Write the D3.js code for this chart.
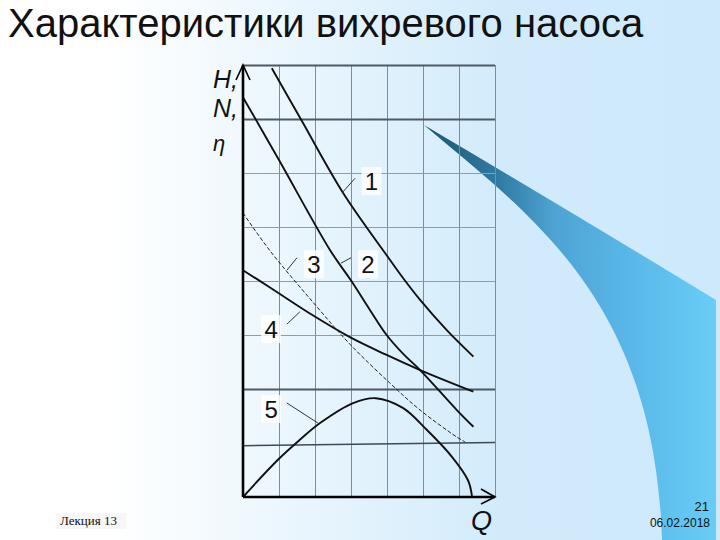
<!DOCTYPE html>
<html>
<head>
<meta charset="utf-8">
<script src="https://cdn.jsdelivr.net/npm/d3@7"></script>
<style>
  html, body { margin: 0; padding: 0; background: #fff; }
  svg { display: block; }
</style>
</head>
<body>
<div id="slide"></div>
<script>
// curves, in grid cells (Q: 0..7, H/N/eta: 0..8)
var curve1 = [[0.80, 7.94], [1.62, 6.98], [2.79, 5.62], [4.03, 4.44], [4.44, 4.06], [4.92, 3.65],
              [5.66, 3.09], [6.40, 2.60]];
var curve2 = [[0.01, 7.39], [1.00, 6.24], [2.42, 4.57], [3.02, 3.99], [3.53, 3.46], [3.99, 3.00],
              [4.45, 2.65], [4.92, 2.35], [5.94, 1.61], [6.40, 1.30]];
var curve3 = [[0.00, 5.26], [0.75, 4.56], [1.94, 3.61], [2.97, 2.83], [4.08, 2.11], [4.92, 1.61],
              [5.94, 1.11], [6.17, 1.02]];
var curve4 = [[0.00, 4.20], [0.75, 3.88], [1.95, 3.36], [2.97, 2.96], [3.99, 2.63], [4.92, 2.35], [6.40, 1.95]];
var curve5 = [[0.00, 0.00], [0.97, 0.69], [1.58, 1.06], [2.14, 1.37], [3.06, 1.74], [3.69, 1.83],
              [4.44, 1.65], [5.11, 1.24], [5.81, 0.74], [6.25, 0.31], [6.36, 0.02]];
var baseLine = [[0, 0.95], [7, 1.01]];

var curveNames = ['1', '2', '3', '4', '5'];
var qTicks = [1, 2, 3, 4, 5, 6, 7];
var hTicks = [2, 3, 4, 5, 6, 7, 8];
var boldTicks = [2, 7, 8];

var title = 'Характеристики вихревого насоса';
var axisNames = ['H,', 'N,', 'η'];

function drawSlide() {
    const W = 720, H = 540;

    let svg = d3.select('#slide').append('svg')
        .attr('width', W)
        .attr('height', H);

    let defs = svg.append('defs');

    // slide background: white on the left fading to light blue
    let bg = defs.append('linearGradient')
        .attr('id', 'bg')
        .attr('gradientUnits', 'userSpaceOnUse')
        .attr('x1', 0).attr('y1', 0).attr('x2', W).attr('y2', 0);
    bg.append('stop').attr('offset', 0.15).attr('stop-color', '#ffffff');
    bg.append('stop').attr('offset', 0.70).attr('stop-color', '#d2ebfb');
    bg.append('stop').attr('offset', 1).attr('stop-color', '#cde9fb');

    let sw = defs.append('linearGradient')
        .attr('id', 'swoosh')
        .attr('gradientUnits', 'userSpaceOnUse')
        .attr('x1', 424).attr('y1', 0).attr('x2', 716).attr('y2', 0);
    sw.append('stop').attr('offset', 0).attr('stop-color', '#1d566f');
    sw.append('stop').attr('offset', 0.25).attr('stop-color', '#2f7aa2');
    sw.append('stop').attr('offset', 0.45).attr('stop-color', '#4ea4d4');
    sw.append('stop').attr('offset', 0.75).attr('stop-color', '#5bbbeb');
    sw.append('stop').attr('offset', 1).attr('stop-color', '#69cdf7');

    svg.append('rect')
        .attr('width', W)
        .attr('height', H)
        .style('fill', 'url(#bg)');

    // decorative swoosh on the right
    svg.append('path')
        .attr('d', 'M424,125 Q560,205 716,300 L716,540 L662,540 C655,300 530,215 424,125 Z')
        .style('fill', 'url(#swoosh)');

    // title
    svg.append('text')
        .attr('x', 8)
        .attr('y', 37)
        .style('font-family', '"Liberation Sans", Arial, sans-serif')
        .style('font-size', '40px')
        .style('fill', '#111')
        .text(title);

    const x = d3.scaleLinear().domain([0, 7]).range([243, 495]);
    const y = d3.scaleLinear().domain([0, 8]).range([497, 65]);

    let g = svg.append('g');

    // vertical grid
    g.append('g')
        .attr('transform', 'translate(0,' + y(0) + ')')
        .call(d3.axisBottom(x).tickValues(qTicks).tickSize(y(8) - y(0)).tickFormat(''))
        .call(a => a.select('.domain').remove())
        .selectAll('line')
        .style('stroke', '#7d8d9a')
        .style('stroke-width', 1);

    // horizontal grid, a few lines drawn heavier
    g.append('g')
        .attr('transform', 'translate(' + x(0) + ',0)')
        .call(d3.axisRight(y).tickValues(hTicks).tickSize(x(7) - x(0)).tickFormat(''))
        .call(a => a.select('.domain').remove())
        .selectAll('.tick line')
        .style('stroke', d => boldTicks.includes(d) ? '#4d5a66' : '#8f9daa')
        .style('stroke-width', d => boldTicks.includes(d) ? 2 : 1);

    const line = d3.line()
        .x(d => x(d[0]))
        .y(d => y(d[1]))
        .curve(d3.curveCatmullRom.alpha(0.5));

    g.append('path')
        .attr('d', line(baseLine))
        .style('fill', 'none')
        .style('stroke', '#3d4a55')
        .style('stroke-width', 1.6);

    [curve1, curve2, curve4, curve5].forEach(c => {
        g.append('path')
            .attr('d', line(c))
            .style('fill', 'none')
            .style('stroke', '#111')
            .style('stroke-width', 1.9);
    });

    g.append('path')
        .attr('d', line(curve3))
        .style('fill', 'none')
        .style('stroke', '#222')
        .style('stroke-width', 1)
        .style('stroke-dasharray', '4,2');

    // axes with open arrow heads
    g.append('path')
        .attr('d', 'M' + x(0) + ',' + y(0) + 'V' + y(8))
        .style('stroke', '#000')
        .style('stroke-width', 2.6);
    g.append('path')
        .attr('d', 'M' + x(0) + ',' + y(0) + 'H' + x(7))
        .style('stroke', '#000')
        .style('stroke-width', 2.6);
    g.append('path')
        .attr('d', 'M' + (x(0) - 7) + ',' + (y(8) + 15) + 'L' + x(0) + ',' + y(8) + 'L' + (x(0) + 7) + ',' + (y(8) + 15))
        .style('fill', 'none')
        .style('stroke', '#000')
        .style('stroke-width', 1.6);
    g.append('path')
        .attr('d', 'M' + (x(7) - 14) + ',' + (y(0) - 8) + 'L' + x(7) + ',' + y(0) + 'L' + (x(7) - 14) + ',' + (y(0) + 7))
        .style('fill', 'none')
        .style('stroke', '#000')
        .style('stroke-width', 1.6);

    // axis names
    const axFont = '"Liberation Sans", Arial, sans-serif';
    [88, 117, 151].forEach((yy, i) => {
        svg.append('text')
            .attr('x', 213)
            .attr('y', yy)
            .style('font-family', axFont)
            .style('font-style', 'italic')
            .style('font-size', i == 2 ? '22px' : '25px')
            .style('fill', '#111')
            .text(axisNames[i]);
    });
    svg.append('text')
        .attr('x', 471)
        .attr('y', 530)
        .style('font-family', axFont)
        .style('font-style', 'italic')
        .style('font-size', '27px')
        .style('fill', '#111')
        .text('Q');

    // curve callouts: label centre and leader line, in grid cells
    const callouts = [
        { label: [3.57, 5.85], lead: [[2.75, 5.63], [3.11, 5.90]] },
        { label: [3.47, 4.31], lead: [[2.72, 4.33], [3.0, 4.43]] },
        { label: [1.97, 4.31], lead: [[1.22, 4.20], [1.50, 4.43]] },
        { label: [0.78, 3.11], lead: [[1.22, 3.20], [1.58, 3.43]] },
        { label: [0.78, 1.63], lead: [[1.22, 1.74], [2.08, 1.37]] }
    ];

    callouts.forEach((c, i) => {
        g.append('path')
            .attr('d', d3.line().x(d => x(d[0])).y(d => y(d[1]))(c.lead))
            .style('stroke', '#333')
            .style('stroke-width', 1);
        g.append('rect')
            .attr('x', x(c.label[0]) - 10)
            .attr('y', y(c.label[1]) - 14)
            .attr('width', 20)
            .attr('height', 28)
            .style('fill', '#ffffff')
            .style('opacity', 0.8);
        g.append('text')
            .attr('x', x(c.label[0]))
            .attr('y', y(c.label[1]) + 9)
            .attr('text-anchor', 'middle')
            .style('font-family', axFont)
            .style('font-size', '24px')
            .style('fill', '#111')
            .text(curveNames[i]);
    });

    // footer
    svg.append('rect')
        .attr('x', 56).attr('y', 513).attr('width', 70).attr('height', 16)
        .style('fill', '#f7f7f7');
    svg.append('text')
        .attr('x', 60)
        .attr('y', 525)
        .style('font-family', '"Liberation Serif", "Times New Roman", serif')
        .style('font-size', '13px')
        .style('fill', '#111')
        .text('Лекция 13');
    svg.append('text')
        .attr('x', 709)
        .attr('y', 511)
        .attr('text-anchor', 'end')
        .style('font-family', axFont)
        .style('font-size', '13px')
        .style('fill', '#111')
        .text('21');
    svg.append('text')
        .attr('x', 710)
        .attr('y', 527)
        .attr('text-anchor', 'end')
        .style('font-family', axFont)
        .style('font-size', '12px')
        .style('fill', '#111')
        .text('06.02.2018');
}

drawSlide();
</script>
</body>
</html>
